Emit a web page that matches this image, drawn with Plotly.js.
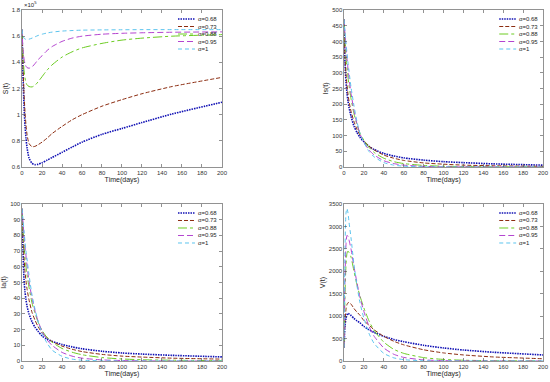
<!DOCTYPE html>
<html><head><meta charset="utf-8">
<script src="https://cdn.plot.ly/plotly-3.0.1.min.js"></script>
<style>html,body{margin:0;padding:0;background:#fff}#chart{width:550px;height:382px}</style>
</head><body><div id="chart"></div><script>
// time grid (days)
const t = [0,1,2,3,4,5,7,10,13,16,20,25,30,40,50,60,80,100,120,150,200];
const alphaLabels = ['α=0.68','α=0.73','α=0.88','α=0.95','α=1'];

// S(t) in units of 1e5
const S_a068 = [1.65,1.30,1.07,0.92,0.82,0.75,0.67,0.628,0.618,0.62,0.632,0.652,0.672,0.712,0.752,0.790,0.850,0.895,0.940,1.005,1.095];
const S_a073 = [1.65,1.38,1.17,1.02,0.92,0.85,0.78,0.755,0.758,0.77,0.79,0.82,0.855,0.91,0.96,1.00,1.065,1.115,1.16,1.215,1.285];
const S_a088 = [1.65,1.45,1.34,1.28,1.245,1.228,1.215,1.212,1.225,1.25,1.29,1.34,1.38,1.44,1.48,1.51,1.545,1.57,1.585,1.60,1.612];
const S_a095 = [1.65,1.50,1.43,1.39,1.37,1.36,1.355,1.365,1.39,1.42,1.45,1.49,1.52,1.56,1.585,1.60,1.615,1.622,1.626,1.63,1.633];
const S_a100 = [1.65,1.60,1.585,1.578,1.576,1.575,1.577,1.585,1.595,1.605,1.615,1.624,1.631,1.639,1.643,1.646,1.648,1.649,1.65,1.65,1.65];

// Is(t)
const Is_a068 = [470,330,270,235,210,190,162,130,110,95,80,66,56,43,35,29,22,17,14,10,6];
const Is_a073 = [470,350,295,260,232,210,178,145,120,102,84,67,55,38,28,21,13,9,6,4,2];
const Is_a088 = [470,400,350,315,285,260,218,170,135,108,85,63,47,28,17,11,5,2.5,1.4,0.8,0.3];
const Is_a095 = [470,420,380,345,313,285,235,180,138,106,78,55,39,20,11,6,2,0.7,0.3,0.1,0];
const Is_a100 = [470,430,395,362,332,305,255,195,145,108,78,50,33,14,6,2.6,0.5,0.1,0,0,0];

// Ia(t)
const Ia_a068 = [97,70,52,44,39,35,30,25,21.5,19,16,14,12.5,10.5,9,7.8,6.2,5.1,4.4,3.6,2.6];
const Ia_a073 = [97,78,66,57,51,46,39,31,26,22,18,15,12.5,9.5,7.5,6,4.2,3.1,2.5,1.8,1.2];
const Ia_a088 = [97,83,74,66,60,55,47,37,30.5,25,19.5,15,12,8,5.6,4,2.2,1.3,0.8,0.5,0.2];
const Ia_a095 = [97,88,80,73,67,61,51,40,32,25.5,19,13.5,10,5.5,3.1,1.8,0.7,0.3,0.1,0,0];
const Ia_a100 = [97,90,83,76,70,65,55,42,33,25.5,17.5,11.5,7,3,1.2,0.5,0.1,0,0,0,0];

// V(t)
const V_a068 = [300,800,950,1030,1060,1050,1015,950,895,850,770,700,640,550,480,430,350,290,245,195,135];
const V_a073 = [300,900,1150,1260,1300,1300,1270,1170,1090,1020,900,800,700,550,440,360,250,180,135,90,50];
const V_a088 = [300,1500,2150,2400,2450,2420,2320,2000,1700,1450,1180,900,690,420,260,170,75,35,17,6,2];
const V_a095 = [300,1900,2600,2800,2780,2700,2500,2100,1750,1420,1100,780,560,290,150,80,25,8,3,1,0];
const V_a100 = [300,2500,3300,3400,3300,3100,2750,2150,1680,1300,950,620,400,170,70,30,5,1,0,0,0];

const yTitles = ['S(t)','Is(t)','Ia(t)','V(t)'];
const yRanges = [[0.6,1.8],[0,500],[0,100],[0,3500]];
const yDticks = [0.2,50,10,500];
const xTicks = [0,20,40,60,80,100,120,140,160,180,200];

const colors = ['#1010b4','#8c2c10','#6ccc22','#b444d0','#5cc4ee'];
const dashes = ['1.5px,1px','4px,2px','dashdot','6px,3px','4px,3px'];
const widths = [1.6,1,1,1,1];

const panels = [
  [S_a068,S_a073,S_a088,S_a095,S_a100],
  [Is_a068,Is_a073,Is_a088,Is_a095,Is_a100],
  [Ia_a068,Ia_a073,Ia_a088,Ia_a095,Ia_a100],
  [V_a068,V_a073,V_a088,V_a095,V_a100]
];
const suf = ['','2','3','4'];

const traces = [];
panels.forEach((series,p)=>{
  series.forEach((ys,i)=>{
    traces.push({x:t,y:ys,type:'scatter',mode:'lines',name:alphaLabels[i],
      xaxis:'x'+suf[p],yaxis:'y'+suf[p],showlegend:false,
      line:{color:colors[i],width:widths[i],dash:dashes[i],shape:'spline',smoothing:0.6}});
  });
});

const fontFam = 'Liberation Sans, Arial, sans-serif';
const xDom = [[0.04,0.4036],[0.6255,0.9873]];
const yDom = [[0.5628,0.9738],[0.055,0.466]];
function axBase(){
  return {showline:true,linecolor:'#4a4a4a',linewidth:0.6,mirror:'ticks',ticks:'inside',
    ticklen:3,tickcolor:'#4a4a4a',tickwidth:0.6,showgrid:false,zeroline:false,
    tickfont:{family:fontFam,size:6,color:'#333333'}};
}
const layout = {width:550,height:382,autosize:false,margin:{l:0,r:0,t:0,b:0},
  paper_bgcolor:'#fff',plot_bgcolor:'#fff',showlegend:false,shapes:[],annotations:[]};
for(let p=0;p<4;p++){
  const col=p%2,row=Math.floor(p/2);
  const xa=axBase();
  Object.assign(xa,{domain:xDom[col],range:[0,200],tickvals:xTicks,anchor:'y'+suf[p],
    title:{text:'Time(days)',font:{family:fontFam,size:7,color:'#262626'},standoff:2}});
  const ya=axBase();
  Object.assign(ya,{domain:yDom[row],range:yRanges[p],dtick:yDticks[p],tick0:yRanges[p][0],anchor:'x'+suf[p],
    title:{text:yTitles[p],font:{family:fontFam,size:7,color:'#262626'},standoff:2}});
  layout['xaxis'+suf[p]]=xa;
  layout['yaxis'+suf[p]]=ya;
  // legend drawn in-axes (MATLAB style, compact spacing)
  for(let i=0;i<5;i++){
    const yy = 1-(9+7.5*i)/157;
    layout.shapes.push({type:'line',xref:'x'+suf[p]+' domain',yref:'y'+suf[p]+' domain',
      x0:0.78,x1:0.865,y0:yy,y1:yy,line:{color:colors[i],width:widths[i],dash:dashes[i]}});
    layout.annotations.push({xref:'x'+suf[p]+' domain',yref:'y'+suf[p]+' domain',x:0.87,y:yy,
      xanchor:'left',yanchor:'middle',showarrow:false,text:alphaLabels[i],
      font:{family:fontFam,size:6,color:'#262626'}});
  }
}
layout.annotations.push({xref:'x domain',yref:'y domain',x:0.0,y:1.0,xanchor:'left',yanchor:'bottom',
  showarrow:false,text:'×10<sup>5</sup>',font:{family:fontFam,size:6,color:'#262626'}});

Plotly.newPlot('chart',traces,layout,{displayModeBar:false,staticPlot:true});
</script></body></html>
